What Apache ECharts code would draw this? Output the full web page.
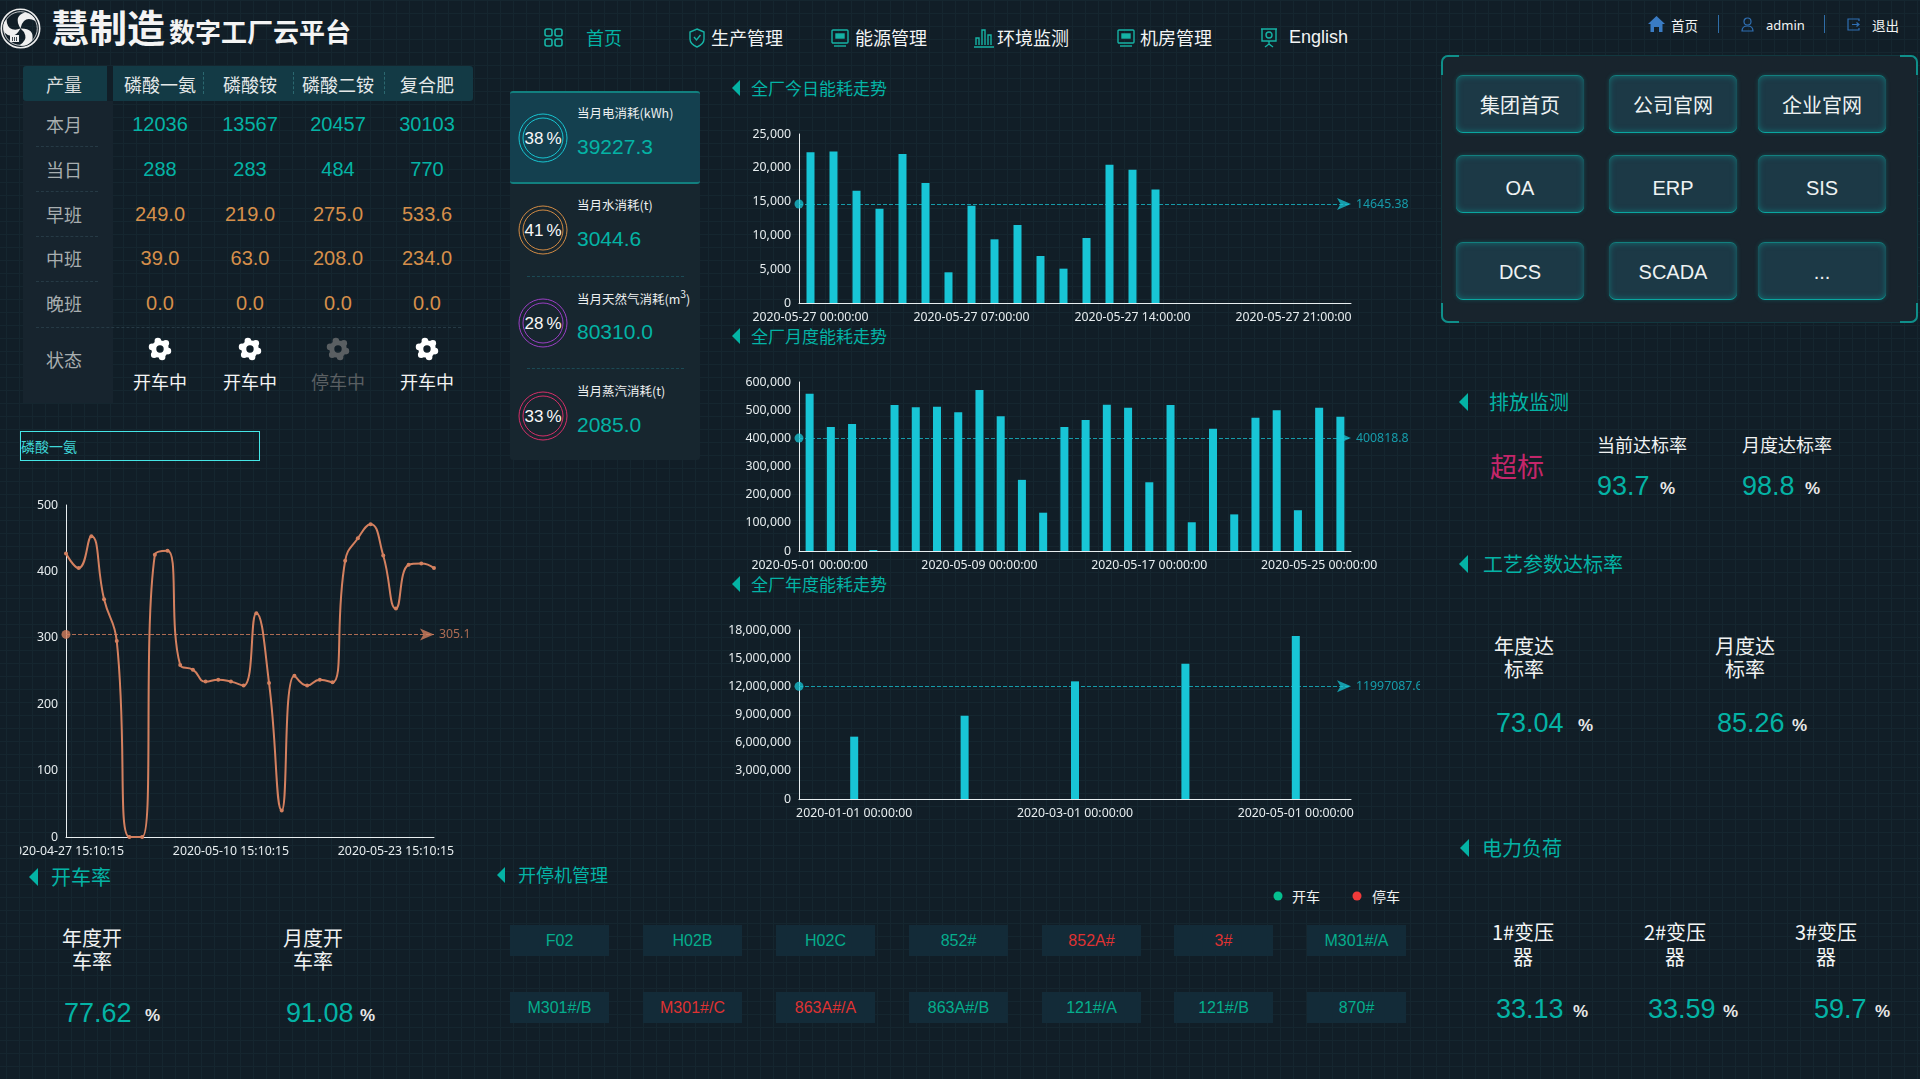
<!DOCTYPE html>
<html lang="zh">
<head>
<meta charset="utf-8">
<title>慧制造数字工厂云平台</title>
<script src="https://cdn.jsdelivr.net/npm/echarts@6/dist/echarts.min.js"></script>
<style>
  html, body { margin: 0; padding: 0; width: 1920px; height: 1079px; overflow: hidden; }
  body {
    position: relative;
    background-color: #111e27;
    background-image:
      linear-gradient(to right, #15262f 1px, transparent 1px),
      linear-gradient(to bottom, #15262f 1px, transparent 1px);
    background-size: 13px 13px;
    background-position: 6px 0;
    font-family: "Liberation Sans", "Noto Sans CJK SC", sans-serif;
    color: #fff;
  }
  .abs { position: absolute; white-space: nowrap; }
  .c { transform: translate(-50%, -50%); text-align: center; }
  .m { transform: translateY(-50%); }
  .tri { position: absolute; width: 0; height: 0; border-style: solid; border-color: transparent #04b3a5 transparent transparent; transform: translateY(-50%); }
  .btn {
    position: absolute; width: 128px; height: 58px; box-sizing: border-box;
    background: #1c3946; border-radius: 7px;
    box-shadow: inset 0 0 6px rgba(14,170,165,.5), 0 0 4px rgba(14,170,165,.3);
    border-top: 1px solid #12807f; border-bottom: 1px solid #0aa6a0;
    font-size: 20px; color: #eef2f2; text-align: center;
  }
  .unit { position: absolute; font-weight: bold; font-size: 17px; color: #e8e8e8; transform: translateY(-50%); }
  .tag {
    position: absolute; width: 99px; height: 31px; line-height: 31px; text-align: center;
    background: #132b38; font-size: 16px;
  }
  .chart { position: absolute; overflow: hidden; }
</style>
</head>
<body>
<script>
// header / table
const productNames = ["磷酸一氨", "磷酸铵", "磷酸二铵", "复合肥"];
const monthOutput = ["12036", "13567", "20457", "30103"];
const dayOutput = ["288", "283", "484", "770"];
const morningShift = ["249.0", "219.0", "275.0", "533.6"];
const middleShift = ["39.0", "63.0", "208.0", "234.0"];
const nightShift = ["0.0", "0.0", "0.0", "0.0"];
const productStatus = ["开车中", "开车中", "停车中", "开车中"];
const navItems = ["生产管理", "能源管理", "环境监测", "机房管理", "English"];
const linkNames = ["集团首页", "公司官网", "企业官网", "OA", "ERP", "SIS", "DCS", "SCADA", "..."];

// kpi cards
const kpiTitles = ["当月电消耗(kWh)", "当月水消耗(t)", "当月天然气消耗(m<sup>3</sup>)", "当月蒸汽消耗(t)"];
const kpiPercents = [38, 41, 28, 33];
const kpiValues = ["39227.3", "3044.6", "80310.0", "2085.0"];
const kpiColors = ["#17c3cf", "#d08a44", "#9a3fc4", "#d42f68"];

// machines
const machineRow1 = ["F02", "H02B", "H02C", "852#", "852A#", "3#", "M301#/A"];
const machineRow1Stop = [false, false, false, false, true, true, false];
const machineRow2 = ["M301#/B", "M301#/C", "863A#/A", "863A#/B", "121#/A", "121#/B", "870#"];
const machineRow2Stop = [false, true, true, false, false, false, false];

// line chart
const lineDates = ["2020-04-27","2020-04-28","2020-04-29","2020-04-30","2020-05-01","2020-05-02","2020-05-03","2020-05-04","2020-05-05","2020-05-06",
  "2020-05-07","2020-05-08","2020-05-09","2020-05-10","2020-05-11","2020-05-12","2020-05-13","2020-05-14","2020-05-15","2020-05-16",
  "2020-05-17","2020-05-18","2020-05-19","2020-05-20","2020-05-21","2020-05-22","2020-05-23","2020-05-24","2020-05-25","2020-05-26"]
  .map(d => d + " 15:10:15");
const lineValues = [427, 405, 453, 358, 295, 0, 0, 425, 431, 259, 252, 234, 237, 234, 228, 337, 232, 40, 243, 228, 237, 233, 416, 450, 471, 424, 344, 410, 412, 405];
const lineAverage = 305.1;

// energy charts
const dayHours = ["00","01","02","03","04","05","06","07","08","09","10","11","12","13","14","15","16","17","18","19","20","21","22","23"]
  .map(h => "2020-05-27 " + h + ":00:00");
const dayEnergy = [22300, 22400, 16600, 13950, 22040, 17750, 4540, 14400, 9420, 11540, 6950, 5080, 9620, 20460, 19720, 16800];
const dayAverage = 14645.38;

const monthDays = ["01","02","03","04","05","06","07","08","09","10","11","12","13","14","15","16","17","18","19","20","21","22","23","24","25","26"]
  .map(d => "2020-05-" + d + " 00:00:00");
const monthEnergy = [558500, 440000, 450600, 3500, 518000, 510000, 512000, 493000, 571500, 478000, 252600, 136000, 440000, 465000, 519000, 509000, 244000, 518000, 102000, 434000, 130000, 473000, 500000, 144700, 509000, 477000];
const monthAverage = 400818.8;

const yearMonths = ["2020-01-01 00:00:00", "2020-02-01 00:00:00", "2020-03-01 00:00:00", "2020-04-01 00:00:00", "2020-05-01 00:00:00"];
const yearEnergy = [6640000, 8870000, 12530000, 14410000, 17360000];
const yearAverage = 11997087.6;

const COL_BAR = "#18c5d6";
const COL_LINE = "#d4805f";
const COL_AXIS = "#e8eef0";
const CJK = "'Noto Sans CJK SC', sans-serif";
const ARIAL = "'Liberation Sans', sans-serif";
const AXIS_FONT = "'Noto Sans', sans-serif";
const AXIS_SIZE = 12.3;

function add(html) {
  document.body.insertAdjacentHTML("beforeend", html);
}
function text(x, y, str, size, color, extra) {
  add(`<div class="abs m" style="left:${x}px;top:${y}px;font-size:${size}px;color:${color};font-family:${CJK};${extra || ""}">${str}</div>`);
}
function ctext(x, y, str, size, color, extra) {
  add(`<div class="abs c" style="left:${x}px;top:${y}px;font-size:${size}px;color:${color};${extra || ""}">${str}</div>`);
}
function sectionTitle(triX, y, triW, textX, str, size) {
  add(`<div class="tri" style="left:${triX}px;top:${y}px;border-width:${triW}px ${triW}px ${triW}px 0;"></div>`);
  text(textX, y - 1, str, size, "#04b3a5");
}
function gear(x, y, color) {
  let lobes = "";
  for (let i = 0; i < 6; i++) {
    const a = (i * 60 + 15) * Math.PI / 180;
    lobes += `<circle cx="${12 + 8.2 * Math.cos(a)}" cy="${12 + 8.2 * Math.sin(a)}" r="3.3" fill="${color}"/>`;
  }
  add(`<svg class="abs c" style="left:${x}px;top:${y}px" width="24" height="24" viewBox="0 0 24 24">${lobes}
    <circle cx="12" cy="12" r="6.2" fill="none" stroke="${color}" stroke-width="5"/></svg>`);
}

// logo + title
const blade = '<path d="M20.5 20.500Q13 8 25 4.500Q34 6 35.500 13Q28 9 24 13Q21 16 20.500 20.500Z" fill="#f0f0f0"/>';
add(`<svg class="abs" style="left:0;top:8px" width="41" height="41" viewBox="0 0 41 41" fill="none">
  <circle cx="20.5" cy="20.5" r="19.2" stroke="#eee" stroke-width="1.6"/>
  <circle cx="20.5" cy="20.5" r="16.8" stroke="#eee" stroke-width="0.8"/>
  ${blade}
  <g transform="rotate(120 20.500 20.500)">${blade}</g>
  <g transform="rotate(240 20.500 20.500)">${blade}</g>
  <rect x="10" y="27" width="9" height="7" fill="#eee"/>
  <path d="M12.500 29v4M14.500 29v4M16.500 29v4" stroke="#111e27" stroke-width="0.8"/>
</svg>`);
text(51, 25, "慧制造", 38, "#f4f4f4", "font-weight:700;");
text(169, 30, "数字工厂云平台", 26, "#f4f4f4", "font-weight:700;");

// nav
const navIconX = [687, 830, 972, 1116, 1259];
const navTextX = [711, 855, 997, 1140, 1289];
add(`<svg class="abs" style="left:544px;top:28px" width="19" height="19" viewBox="0 0 19 19" fill="none" stroke="#16b3a5" stroke-width="1.6">
  <rect x="1" y="1" width="7" height="7" rx="2"/><rect x="11" y="1" width="7" height="7" rx="2"/><rect x="1" y="11" width="7" height="7" rx="2"/><rect x="11" y="11" width="7" height="7" rx="2"/></svg>`);
text(586, 37, "首页", 18, "#04b3a5");
const navIcons = [
  '<path d="M10 2l7 3v7q0 5-7 8q-7-3-7-8V5z"/><path d="M7 10l2.5 3 4-5"/>',
  '<rect x="2" y="3" width="16" height="13" rx="1"/><rect x="6" y="7" width="8" height="4" fill="#16b3a5"/><path d="M4 19h12"/>',
  '<path d="M2 20h20M4 18v-7h3v7M10 18V3h3v15M16 18V8h3v10"/>',
  '<rect x="2" y="3" width="16" height="13" rx="1"/><rect x="6" y="7" width="8" height="4" fill="#16b3a5"/><path d="M4 19h12"/>',
  '<path d="M2 2h16M3 2v12h14V2M10 14v3M6 20l4-3 4 3"/><circle cx="10" cy="8" r="3"/>'
];
navItems.forEach((n, i) => {
  add(`<svg class="abs" style="left:${navIconX[i]}px;top:27px" width="22" height="22" viewBox="0 0 22 22" fill="none" stroke="#16b3a5" stroke-width="1.4">${navIcons[i]}</svg>`);
  text(navTextX[i], 37, n, 18, "#f2f4f4", i === 4 ? `font-family:${ARIAL};` : "");
});

// top right
add(`<svg class="abs" style="left:1648px;top:16px" width="17" height="16" viewBox="0 0 17 16"><path d="M8.5 0L17 8h-2.5v8h-3.500v-5h-5v5H2.500V8H0z" fill="#3a7cc4"/></svg>`);
text(1671, 25, "首页", 13.5, "#f2f4f4");
add(`<div class="abs" style="left:1718px;top:15px;width:1px;height:18px;background:#2f6ea8"></div>`);
add(`<svg class="abs" style="left:1741px;top:17px" width="13" height="15" viewBox="0 0 13 15" fill="none" stroke="#2f6fb3" stroke-width="1.2"><circle cx="6.500" cy="4.500" r="3.500"/><path d="M1 14q0-5 5.500-5t5.500 5z"/></svg>`);
text(1766, 25, "admin", 13, "#f2f4f4", `font-family:${AXIS_FONT};`);
add(`<div class="abs" style="left:1824px;top:15px;width:1px;height:18px;background:#2f6ea8"></div>`);
add(`<svg class="abs" style="left:1847px;top:18px" width="13" height="13" viewBox="0 0 13 13" fill="none" stroke="#2f6fb3" stroke-width="1.200"><path d="M12 3V1H1v11h11v-2M5 6.500h7M9.500 4.500l2.500 2-2.500 2"/></svg>`);
text(1872, 25, "退出", 13.5, "#f2f4f4");

// link panel
add(`<div class="abs" style="left:1441px;top:55px;width:477px;height:268px;background:#18242d;border:1px solid #12383f;box-sizing:border-box;border-radius:7px"></div>`);
[["left:1441px;top:55px", "border-left:2px solid #0f8f8a;border-top:2px solid #0f8f8a;border-top-left-radius:7px"],
 ["left:1900px;top:55px", "border-right:2px solid #0f8f8a;border-top:2px solid #0f8f8a;border-top-right-radius:7px"],
 ["left:1441px;top:303px", "border-left:2px solid #0f8f8a;border-bottom:2px solid #0f8f8a;border-bottom-left-radius:7px"],
 ["left:1900px;top:303px", "border-right:2px solid #0f8f8a;border-bottom:2px solid #0f8f8a;border-bottom-right-radius:7px"]]
  .forEach(c => add(`<div class="abs" style="${c[0]};width:16px;height:18px;${c[1]}"></div>`));
const linkX = [1456, 1609, 1758];
const linkY = [75, 155, 242];
const linkLineH = [58, 65, 58];
linkNames.forEach((n, i) => {
  const f = i < 3 ? CJK : ARIAL;
  const row = Math.floor(i / 3);
  add(`<div class="btn" style="left:${linkX[i % 3]}px;top:${linkY[row]}px;line-height:${linkLineH[row]}px;font-family:${f}">${n}</div>`);
});

// output table
add(`<div class="abs" style="left:23px;top:66px;width:450px;height:35px;background:#133a45;border-radius:3px"></div>`);
add(`<div class="abs" style="left:107px;top:66px;width:6px;height:35px;background:#111e27"></div>`);
add(`<div class="abs" style="left:23px;top:101px;width:90px;height:302px;background:#17242e"></div>`);
const colX = [160, 250, 338, 427];
ctext(64, 84, "产量", 18, "#d8dcdc", `font-family:${CJK};`);
productNames.forEach((n, i) => {
  ctext(colX[i], 84, n, 18, "#e4e8e8", `font-family:${CJK};`);
});
[203, 293, 384].forEach(x => add(`<div class="abs" style="left:${x}px;top:72px;height:22px;border-left:1px dashed #2b6870"></div>`));
[["本月", monthOutput, 124, "#04b3a5", 146],
 ["当日", dayOutput, 169, "#04b3a5", 191],
 ["早班", morningShift, 214, "#d68f4a", 236],
 ["中班", middleShift, 258, "#d68f4a", 281],
 ["晚班", nightShift, 303, "#d68f4a", 327]].forEach(r => {
  ctext(64, r[2], r[0], 18, "#a8aeb0", `font-family:${CJK};`);
  r[1].forEach((v, i) => ctext(colX[i], r[2], v, 20, r[3]));
  const w = r[0] === "晚班" ? 425 : 62;
  add(`<div class="abs" style="left:36px;top:${r[4]}px;width:${w}px;border-top:1px dashed #263a45"></div>`);
});
ctext(64, 359, "状态", 18, "#a8aeb0", `font-family:${CJK};`);
productStatus.forEach((s, i) => {
  const col = s === "开车中" ? "#ffffff" : "#5a5f62";
  gear(colX[i], 349, col);
  ctext(colX[i], 381, s, 18, col === "#ffffff" ? "#f4f4f4" : "#5a5f62", `font-family:${CJK};`);
});

// product select box
add(`<div class="abs" style="left:20px;top:431px;width:240px;height:30px;box-sizing:border-box;border:1px solid #45e6e6;color:#3fd8d8;font-size:14px;line-height:28px;font-family:${CJK}">磷酸一氨</div>`);

// kpi panel
add(`<div class="abs" style="left:510px;top:91px;width:190px;height:369px;background:#17262f;border-radius:3px"></div>`);
add(`<div class="abs" style="left:510px;top:91px;width:190px;height:93px;box-sizing:border-box;background:#14404f;border-top:2px solid #12807f;border-bottom:2px solid #12807f;border-radius:3px"></div>`);
const kpiY = [137, 229, 322, 415];
const kpiRuleY = [276, 368];
kpiTitles.forEach((t, i) => {
  const y = kpiY[i];
  const c = kpiColors[i];
  add(`<div class="abs c" style="left:543px;top:${y + 1}px;width:49px;height:49px;box-sizing:border-box;border:1.5px solid ${c};border-radius:50%"></div>`);
  add(`<div class="abs c" style="left:543px;top:${y + 1}px;width:41px;height:41px;box-sizing:border-box;border:1.5px solid ${c};border-radius:50%"></div>`);
  ctext(543, y + 2, kpiPercents[i] + "<span style='margin-left:3px'>%</span>", 17, "#f8f8f8");
  text(577, y - 25, t, 12.5, "#eceff0");
  text(577, y + 10, kpiValues[i], 21, "#04b3a5", `font-family:${ARIAL};`);
});
kpiRuleY.forEach(y => add(`<div class="abs" style="left:527px;top:${y}px;width:157px;border-top:1px dashed #1b4a55"></div>`));

// section titles
sectionTitle(732, 88, 8, 751, "全厂今日能耗走势", 17);
sectionTitle(732, 336, 8, 751, "全厂月度能耗走势", 17);
sectionTitle(732, 584, 8, 751, "全厂年度能耗走势", 17);
sectionTitle(29, 877, 9, 51, "开车率", 20);
sectionTitle(497, 875, 8, 518, "开停机管理", 18);
sectionTitle(1459, 402, 9, 1489, "排放监测", 20);
sectionTitle(1459, 564, 9, 1483, "工艺参数达标率", 20);
sectionTitle(1460, 848, 9, 1482, "电力负荷", 20);

// right column numbers
text(1490, 465, "超标", 27, "#c4266a");
text(1597, 444, "当前达标率", 18, "#f0f2f2");
text(1742, 444, "月度达标率", 18, "#f0f2f2");
function stat(x, y, v, size, ux) {
  text(x, y, v, size, "#04b3a5", `font-family:${ARIAL};`);
  add(`<div class="unit" style="left:${ux}px;top:${y + 3}px">%</div>`);
}
stat(1597, 486, "93.7", 27, 1660);
stat(1742, 486, "98.8", 27, 1805);
const twoLine = (a, b) => `${a}<br>${b}`;
[[1524, "年度达", "标率"], [1745, "月度达", "标率"]].forEach(r =>
  ctext(r[0], 657, twoLine(r[1], r[2]), 20, "#f0f2f2", `font-family:${CJK};line-height:23px;`));
stat(1496, 723, "73.04", 27, 1578);
stat(1717, 723, "85.26", 27, 1792);
[[1523, "1#变压", "器"], [1675, "2#变压", "器"], [1826, "3#变压", "器"]].forEach(r =>
  ctext(r[0], 944, twoLine(r[1], r[2]), 20, "#f4f6f6", `font-family:${CJK};line-height:25px;`));
stat(1496, 1009, "33.13", 27, 1573);
stat(1648, 1009, "33.59", 27, 1723);
stat(1814, 1009, "59.7", 27, 1875);

[[92, "年度开", "车率"], [313, "月度开", "车率"]].forEach(r =>
  ctext(r[0], 949, twoLine(r[1], r[2]), 20, "#f0f2f2", `font-family:${CJK};line-height:23px;`));
stat(64, 1013, "77.62", 27, 145);
stat(286, 1013, "91.08", 27, 360);

// machine tags + legend
const tagX = [510, 643, 776, 909, 1042, 1174, 1307];
function tags(names, stops, top) {
  names.forEach((n, i) => {
    add(`<div class="tag" style="left:${tagX[i]}px;top:${top}px;color:${stops[i] ? "#df3232" : "#05ad8c"}">${n}</div>`);
  });
}
tags(machineRow1, machineRow1Stop, 925);
tags(machineRow2, machineRow2Stop, 992);
add(`<div class="abs c" style="left:1278px;top:896px;width:9px;height:9px;border-radius:50%;background:#05c08f"></div>`);
text(1292, 896, "开车", 14, "#f0f2f2");
add(`<div class="abs c" style="left:1357px;top:896px;width:9px;height:9px;border-radius:50%;background:#f03a3a"></div>`);
text(1372, 896, "停车", 14, "#f0f2f2");

// charts
function chartBox(left, top, width, height) {
  add(`<div class="chart" id="c${left}_${top}" style="left:${left}px;top:${top}px;width:${width}px;height:${height}px"></div>`);
  return echarts.init(document.getElementById(`c${left}_${top}`), null, { renderer: "canvas" });
}

function axisStyle() {
  return {
    axisLine: { show: true, lineStyle: { color: COL_AXIS, width: 1 } },
    axisTick: { show: false },
    axisLabel: { color: COL_AXIS, fontSize: AXIS_SIZE, fontFamily: AXIS_FONT },
    splitLine: { show: false }
  };
}

function barChart(top, cats, vals, avg, yMax, yStep, labelInterval) {
  const chart = chartBox(720, top, 700, 210);
  chart.setOption({
    animation: false,
    backgroundColor: "rgba(0,0,0,0)",
    grid: { left: 79, width: 552, top: 20, height: 169, containLabel: false, outerBoundsMode: "none" },
    xAxis: Object.assign({ type: "category", data: cats }, axisStyle(), {
      axisLabel: { color: COL_AXIS, fontSize: AXIS_SIZE, fontFamily: AXIS_FONT, interval: labelInterval, hideOverlap: false }
    }),
    yAxis: Object.assign({ type: "value", min: 0, max: yMax, interval: yStep }, axisStyle()),
    series: [{
      type: "bar",
      data: vals,
      barWidth: 8,
      itemStyle: { color: COL_BAR },
      markLine: {
        silent: true,
        symbolSize: [9, 14],
        data: [{ yAxis: avg }],
        precision: 2,
        lineStyle: { color: COL_BAR, type: "dashed", width: 1, opacity: 0.75 },
        label: { color: COL_BAR, fontSize: AXIS_SIZE, fontFamily: AXIS_FONT, formatter: String(avg) }
      }
    }]
  });
}

barChart(114, dayHours, dayEnergy, dayAverage, 25000, 5000, 6);
barChart(362, monthDays, monthEnergy, monthAverage, 600000, 100000, 7);
barChart(610, yearMonths, yearEnergy, yearAverage, 18000000, 3000000, 1);

const lineChart = chartBox(20, 490, 470, 380);
lineChart.setOption({
  animation: false,
  backgroundColor: "rgba(0,0,0,0)",
  grid: { left: 46, width: 368, top: 15, height: 332, containLabel: false, outerBoundsMode: "none" },
  xAxis: Object.assign({ type: "category", boundaryGap: false, data: lineDates }, axisStyle(), {
    axisLabel: { color: COL_AXIS, fontSize: AXIS_SIZE, fontFamily: AXIS_FONT, interval: 12, hideOverlap: false }
  }),
  yAxis: Object.assign({ type: "value", min: 0, max: 500, interval: 100 }, axisStyle()),
  series: [{
    type: "line",
    data: lineValues,
    smooth: true,
    symbol: "circle",
    symbolSize: 4,
    lineStyle: { color: COL_LINE, width: 2 },
    itemStyle: { color: COL_LINE },
    markLine: {
      silent: true,
      symbolSize: [9, 14],
      data: [{ yAxis: lineAverage }],
      lineStyle: { color: COL_LINE, type: "dashed", width: 1, opacity: 0.8 },
      label: { color: COL_LINE, fontSize: AXIS_SIZE, fontFamily: AXIS_FONT, formatter: String(lineAverage) }
    }
  }]
});
</script>
</body>
</html>
